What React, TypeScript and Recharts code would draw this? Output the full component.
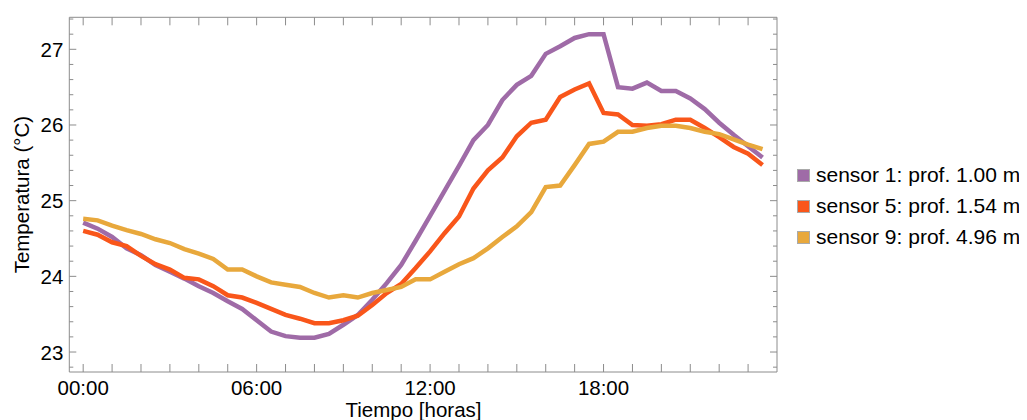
import React from 'react';
import { LineChart, Line, XAxis, YAxis, Legend } from 'recharts';

// Time in hours (every 30 minutes)
const hours: number[] = [
  0, 0.5, 1, 1.5, 2, 2.5, 3, 3.5, 4, 4.5, 5, 5.5, 6, 6.5, 7, 7.5, 8, 8.5, 9, 9.5,
  10, 10.5, 11, 11.5, 12, 12.5, 13, 13.5, 14, 14.5, 15, 15.5, 16, 16.5, 17, 17.5,
  18, 18.5, 19, 19.5, 20, 20.5, 21, 21.5, 22, 22.5, 23, 23.5,
];

const sensor1: number[] = [
  24.71, 24.63, 24.52, 24.37, 24.28, 24.15, 24.06, 23.97, 23.87, 23.78, 23.67, 23.57,
  23.42, 23.27, 23.21, 23.19, 23.19, 23.24, 23.36, 23.49, 23.69, 23.91, 24.15, 24.47,
  24.80, 25.13, 25.46, 25.80, 26.00, 26.33, 26.53, 26.65, 26.94, 27.04, 27.15, 27.20,
  27.20, 26.50, 26.48, 26.56, 26.45, 26.45, 26.35, 26.21, 26.03, 25.87, 25.72, 25.57,
];

const sensor5: number[] = [
  24.60, 24.55, 24.45, 24.40, 24.27, 24.16, 24.09, 23.98, 23.96, 23.87, 23.75, 23.72,
  23.65, 23.57, 23.49, 23.44, 23.38, 23.38, 23.42, 23.48, 23.62, 23.78, 23.90, 24.11,
  24.33, 24.57, 24.79, 25.16, 25.40, 25.57, 25.85, 26.03, 26.07, 26.37, 26.47, 26.55,
  26.16, 26.14, 26.00, 25.99, 26.01, 26.07, 26.07, 25.96, 25.84, 25.71, 25.62, 25.47,
];

const sensor9: number[] = [
  24.76, 24.74, 24.67, 24.61, 24.56, 24.49, 24.44, 24.36, 24.30, 24.23, 24.09, 24.09,
  24.00, 23.92, 23.89, 23.86, 23.78, 23.72, 23.75, 23.72, 23.78, 23.82, 23.86, 23.96,
  23.96, 24.06, 24.16, 24.24, 24.37, 24.52, 24.66, 24.85, 25.18, 25.20, 25.47, 25.75,
  25.78, 25.91, 25.91, 25.96, 25.99, 25.99, 25.96, 25.91, 25.88, 25.81, 25.74, 25.68,
];

const seriesNames: string[] = [
  'sensor 1: prof. 1.00 m',
  'sensor 5: prof. 1.54 m',
  'sensor 9: prof. 4.96 m',
];
const seriesColors: string[] = ['#9f6ba7', '#f9561a', '#e8a83c'];

const xTicks: number[] = [
  0, 1, 2, 3, 4, 5, 6, 7, 8, 9, 10, 11, 12, 13, 14, 15, 16, 17, 18, 19, 20, 21, 22, 23,
];
const xLabelHours: number[] = [0, 6, 12, 18];
const xLabelTexts: string[] = ['00:00', '06:00', '12:00', '18:00'];

const yTicks: number[] = [
  22.8, 23.0, 23.2, 23.4, 23.6, 23.8, 24.0, 24.2, 24.4, 24.6, 24.8, 25.0, 25.2, 25.4,
  25.6, 25.8, 26.0, 26.2, 26.4, 26.6, 26.8, 27.0, 27.2, 27.4,
];
const yLabelValues: number[] = [23, 24, 25, 26, 27];

const data = hours.map((t, i) => ({
  t,
  s1: sensor1[i],
  s5: sensor5[i],
  s9: sensor9[i],
}));

const FONT = '"Liberation Sans", Arial, sans-serif';
const FRAME = '#8c8c8c';
const FS = 20.5;

const isMajorY = (v: number) => yLabelValues.some((m) => Math.abs(m - v) < 1e-6);

const BottomTick = (props: any) => {
  const { x, y, payload } = props;
  const v = payload.value;
  const idx = xLabelHours.indexOf(v);
  return (
    <g>
      <line x1={x} x2={x} y1={y} y2={y - 8} stroke={FRAME} strokeWidth={1} />
      {idx >= 0 && (
        <text x={x} y={y + 23} textAnchor="middle" fontSize={FS} fontFamily={FONT} fill="#000">
          {xLabelTexts[idx]}
        </text>
      )}
    </g>
  );
};

const TopTick = (props: any) => {
  const { x, y } = props;
  return <line x1={x} x2={x} y1={y} y2={y + 8} stroke={FRAME} strokeWidth={1} />;
};

const LeftTick = (props: any) => {
  const { x, y, payload } = props;
  const v = payload.value;
  const major = isMajorY(v);
  return (
    <g>
      <line x1={x} x2={x + (major ? 7 : 4)} y1={y} y2={y} stroke={FRAME} strokeWidth={1} />
      {major && (
        <text x={x - 6} y={y + 7.5} textAnchor="end" fontSize={FS} fontFamily={FONT} fill="#000">
          {String(Math.round(v))}
        </text>
      )}
    </g>
  );
};

const RightTick = (props: any) => {
  const { x, y, payload } = props;
  const major = isMajorY(payload.value);
  return <line x1={x} x2={x - (major ? 7 : 4)} y1={y} y2={y} stroke={FRAME} strokeWidth={1} />;
};

const renderLegend = () => (
  <svg width={240} height={90} style={{ overflow: 'visible', display: 'block' }}>
    {seriesNames.map((name, i) => (
      <g key={name}>
        <rect x={0.5} y={0.5 + i * 31} width={12} height={12} fill={seriesColors[i]} stroke="#aaaaaa" strokeWidth={1} />
        <text x={19} y={13 + i * 31} fontSize={21} fontFamily={FONT} fill="#000">
          {name}
        </text>
      </g>
    ))}
  </svg>
);

export default function App() {
  return (
    <div style={{ width: 1019, height: 412 }}>
      <LineChart
        width={1019}
        height={412}
        data={data}
        margin={{ top: 8.3, right: 249, bottom: 0, left: 0 }}
      >
        <XAxis
          xAxisId="b"
          type="number"
          dataKey="t"
          domain={[-0.48, 24]}
          ticks={xTicks}
          allowDataOverflow
          interval={0}
          height={48}
          tickSize={0}
          tickMargin={0}
          tickLine={false}
          axisLine={{ stroke: FRAME, strokeWidth: 1 }}
          tick={<BottomTick />}
          label={{
            content: () => (
              <text x={405.5} y={408.7} textAnchor="middle" fontSize={FS} fontFamily={FONT} fill="#000">
                Tiempo [horas]
              </text>
            ),
          }}
        />
        <XAxis
          xAxisId="t"
          orientation="top"
          type="number"
          dataKey="t"
          domain={[-0.48, 24]}
          ticks={xTicks}
          allowDataOverflow
          interval={0}
          height={1}
          tickSize={0}
          tickMargin={0}
          tickLine={false}
          axisLine={{ stroke: FRAME, strokeWidth: 1 }}
          tick={<TopTick />}
        />
        <YAxis
          yAxisId="l"
          type="number"
          domain={[22.736, 27.423]}
          ticks={yTicks}
          allowDataOverflow
          interval={0}
          width={61.3}
          tickSize={0}
          tickMargin={0}
          tickLine={false}
          axisLine={{ stroke: FRAME, strokeWidth: 1 }}
          tick={<LeftTick />}
          label={{
            content: () => (
              <text
                x={21.3}
                y={186.65}
                transform="rotate(-90, 21.3, 186.65)"
                textAnchor="middle"
                fontSize={FS}
                fontFamily={FONT}
                fill="#000"
              >
                Temperatura (°C)
              </text>
            ),
          }}
        />
        <YAxis
          yAxisId="r"
          orientation="right"
          type="number"
          domain={[22.736, 27.423]}
          ticks={yTicks}
          allowDataOverflow
          interval={0}
          width={1}
          tickSize={0}
          tickMargin={0}
          tickLine={false}
          axisLine={{ stroke: FRAME, strokeWidth: 1 }}
          tick={<RightTick />}
        />
        <Legend
          layout="vertical"
          align="center"
          verticalAlign="middle"
          content={renderLegend}
          wrapperStyle={{ left: 789, top: 161, width: 240, height: 90 }}
        />
        <Line xAxisId="b" yAxisId="l" dataKey="s1" name={seriesNames[0]} stroke={seriesColors[0]} strokeWidth={4.5} dot={false} isAnimationActive={false} strokeLinejoin="miter" />
        <Line xAxisId="b" yAxisId="l" dataKey="s5" name={seriesNames[1]} stroke={seriesColors[1]} strokeWidth={4.5} dot={false} isAnimationActive={false} strokeLinejoin="miter" />
        <Line xAxisId="b" yAxisId="l" dataKey="s9" name={seriesNames[2]} stroke={seriesColors[2]} strokeWidth={4.5} dot={false} isAnimationActive={false} strokeLinejoin="miter" />
        <Line xAxisId="t" yAxisId="r" dataKey="s1" stroke="none" dot={false} legendType="none" isAnimationActive={false} />
      </LineChart>
    </div>
  );
}
